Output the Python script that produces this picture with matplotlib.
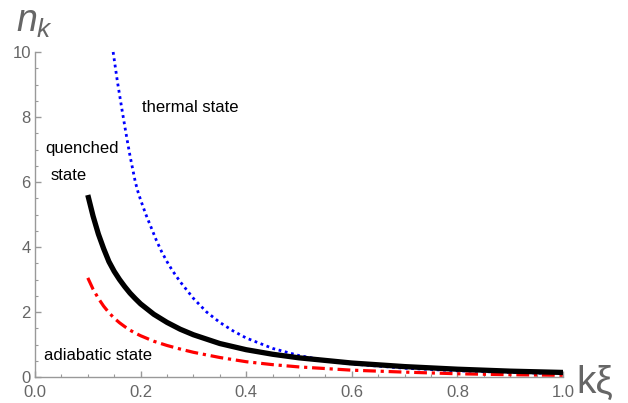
import numpy as np
import matplotlib
matplotlib.use("Agg")
import matplotlib.pyplot as plt
from matplotlib.ticker import MultipleLocator

# values
k_quench = [0.1, 0.11, 0.12, 0.13, 0.14, 0.15, 0.16, 0.17, 0.18, 0.19, 0.2, 0.225, 0.25, 0.275,
            0.3, 0.35, 0.4, 0.45, 0.5, 0.6, 0.7, 0.8, 0.9, 1.0]
n_quench = [5.6, 4.95, 4.4, 3.95, 3.55, 3.25, 3.0, 2.78, 2.58, 2.41, 2.25, 1.93, 1.68, 1.47,
            1.3, 1.03, 0.84, 0.7, 0.59, 0.43, 0.32, 0.24, 0.18, 0.14]

k_thermal = [0.148, 0.152, 0.156, 0.16, 0.165, 0.17, 0.175, 0.18, 0.185, 0.19, 0.195, 0.2, 0.21,
             0.22, 0.23, 0.24, 0.25, 0.26, 0.275, 0.3, 0.325, 0.35, 0.375, 0.4, 0.45, 0.5, 0.55,
             0.6, 0.7, 0.8, 0.9, 1.0]
n_thermal = [10.0, 9.55, 9.1, 8.7, 8.2, 7.72, 7.25, 6.8, 6.4, 6.0, 5.7, 5.45, 5.0,
             4.6, 4.2, 3.85, 3.55, 3.28, 2.93, 2.42, 2.0, 1.68, 1.42, 1.2, 0.88, 0.66, 0.51,
             0.4, 0.27, 0.19, 0.14, 0.1]

k_adiab = [0.1, 0.11, 0.12, 0.13, 0.14, 0.15, 0.16, 0.17, 0.18, 0.19, 0.2, 0.225, 0.25, 0.275,
           0.3, 0.35, 0.4, 0.45, 0.5, 0.6, 0.7, 0.8, 0.9, 1.0]
n_adiab = [3.05, 2.7, 2.42, 2.18, 1.98, 1.81, 1.67, 1.55, 1.44, 1.35, 1.27, 1.1, 0.97, 0.86,
           0.76, 0.6, 0.47, 0.38, 0.31, 0.21, 0.15, 0.1, 0.07, 0.05]

plt.rcParams['font.family'] = ['Liberation Sans', 'DejaVu Sans']
plt.rcParams['mathtext.fontset'] = 'custom'
plt.rcParams['mathtext.it'] = 'Liberation Sans:italic'
plt.rcParams['mathtext.rm'] = 'Liberation Sans'

gray = '#999999'
tgray = '#666666'

fig = plt.figure(figsize=(6.28, 4.03), dpi=100)
ax = fig.add_axes([35 / 628, 1 - 377 / 403, 528 / 628, 325 / 403])

ax.plot(k_thermal, n_thermal, color='#0000ff', lw=2.0, ls=(0, (1, 1.3)), clip_on=False)
ax.plot(k_quench, n_quench, color='black', lw=3.8, solid_capstyle='butt',
        solid_joinstyle='round', zorder=3)
ax.plot(k_adiab, n_adiab, color='#ff0000', lw=2.3, ls=(0, (4, 1.5, 1, 1.5)),
        dash_joinstyle='round', zorder=2)

ax.set_xlim(0, 1)
ax.set_ylim(0, 10)
for s in ['top', 'right']:
    ax.spines[s].set_visible(False)
for s in ['left', 'bottom']:
    ax.spines[s].set_color(gray)
    ax.spines[s].set_linewidth(1.0)

ax.xaxis.set_major_locator(MultipleLocator(0.2))
ax.xaxis.set_minor_locator(MultipleLocator(0.05))
ax.yaxis.set_major_locator(MultipleLocator(2))
ax.yaxis.set_minor_locator(MultipleLocator(0.5))
ax.set_xticklabels([f"{v:.1f}" for v in ax.get_xticks()])
ax.tick_params(which='both', direction='in', color=gray, labelcolor=tgray, labelsize=12)
ax.tick_params(which='major', length=4.5, width=1.0)
ax.tick_params(which='minor', length=2.5, width=0.8)
ax.tick_params(axis='x', pad=6)
ax.tick_params(axis='y', pad=3)

fig.text(35 / 628, 1 - 22 / 403, r'$n_k$', fontsize=27, color=tgray, ha='center', va='center')
fig.text(595 / 628, 1 - 393 / 403, 'kξ', fontsize=28, color=tgray, ha='center', va='baseline')

fig.text(190 / 628, 1 - 108 / 403, 'thermal state', fontsize=12, ha='center', va='center')
fig.text(82 / 628, 1 - 148 / 403, 'quenched', fontsize=12, ha='center', va='center')
fig.text(69 / 628, 1 - 175 / 403, 'state', fontsize=12, ha='center', va='center')
fig.text(98 / 628, 1 - 355 / 403, 'adiabatic state', fontsize=12, ha='center', va='center')

fig.savefig('out.png', dpi=100)
